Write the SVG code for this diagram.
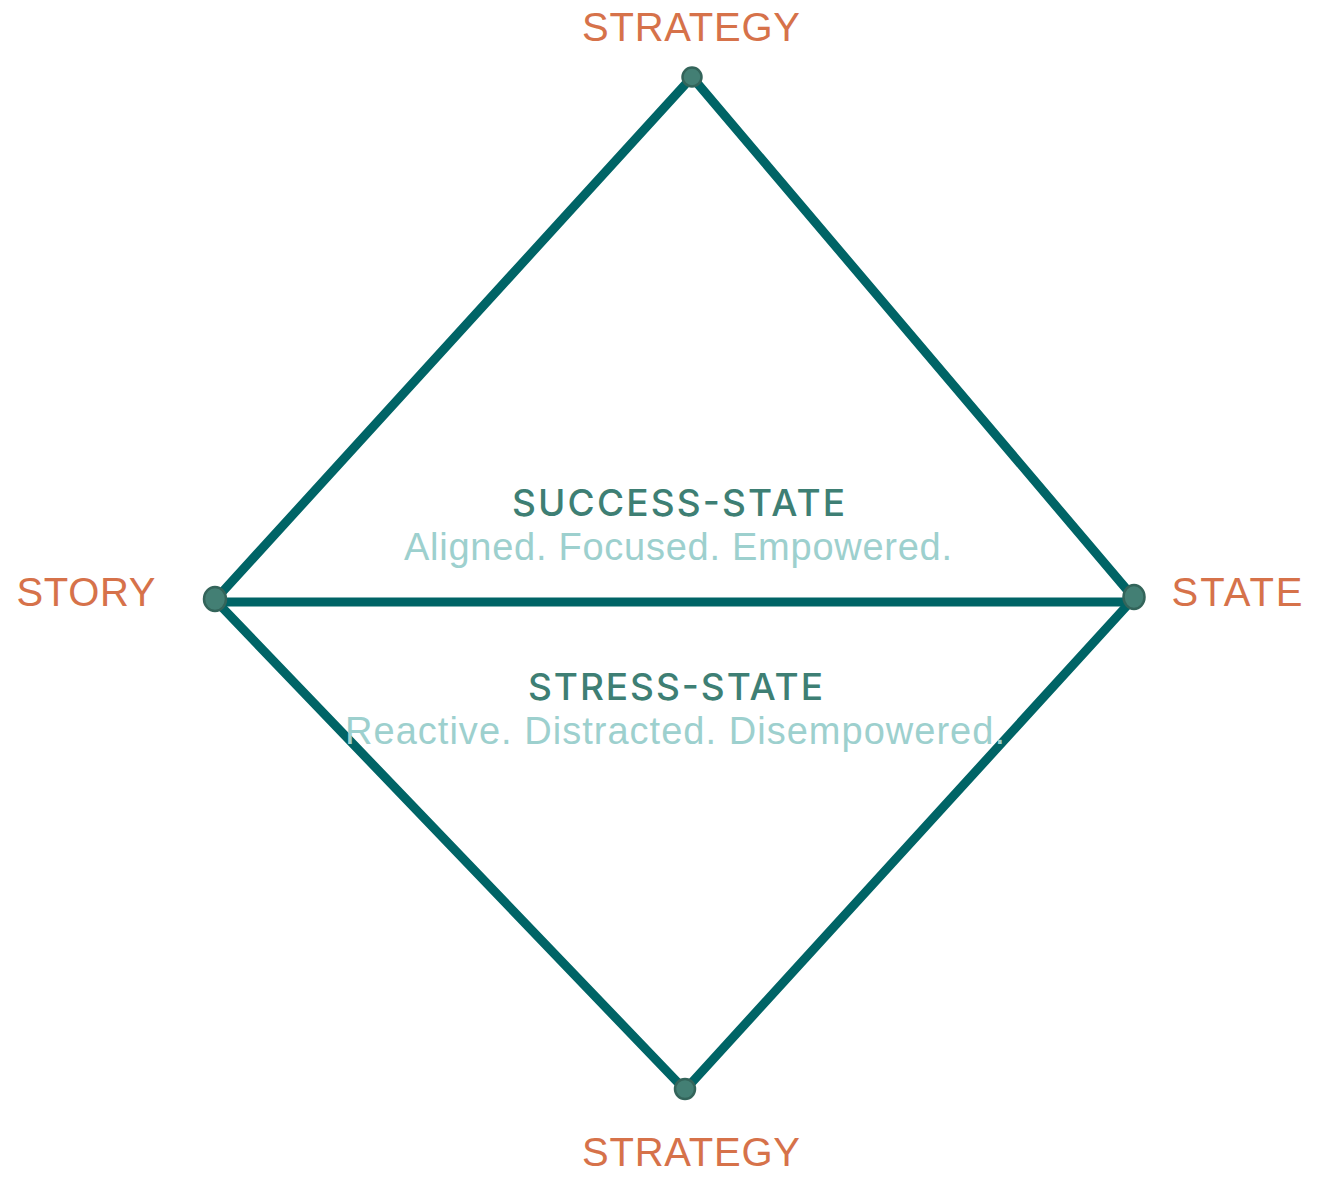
<svg xmlns="http://www.w3.org/2000/svg" width="1319" height="1181" viewBox="0 0 1319 1181">
  <style>
    .edge { stroke: #006466; stroke-width: 9; stroke-linecap: round; fill: none; }
    .dot { fill: #437f74; stroke: #33645a; stroke-width: 2.5; }
    .corner { font-family: "Liberation Sans", Arial, sans-serif; font-size: 40px; fill: #d6724a; text-anchor: middle; }
    .head { font-family: Inter, "Liberation Sans", Arial, sans-serif; font-weight: 500; font-size: 37px; fill: #3e7f74; text-anchor: middle; }
    .sub { font-family: "Liberation Sans", Arial, sans-serif; font-size: 38px; fill: #9dd0ce; text-anchor: middle; }
  </style>
  <rect width="1319" height="1181" fill="#ffffff"/>

  <!-- edges of the diamond and the middle divider -->
  <g id="connectors">
    <line class="edge" x1="215" y1="600" x2="692" y2="77"/>
    <line class="edge" x1="692" y1="77" x2="1134" y2="598"/>
    <line class="edge" x1="215" y1="602" x2="1134" y2="602"/>
    <line class="edge" x1="215" y1="600" x2="685" y2="1090"/>
    <line class="edge" x1="685" y1="1090" x2="1134" y2="598"/>
  </g>

  <g id="node-strategy-top">
    <circle class="dot" cx="692" cy="77" r="9.5"/>
    <text class="corner" x="691" y="41" textLength="218" lengthAdjust="spacing">STRATEGY</text>
  </g>

  <g id="node-story">
    <ellipse class="dot" cx="215" cy="599" rx="11" ry="12"/>
    <text class="corner" x="86" y="606" textLength="139" lengthAdjust="spacing">STORY</text>
  </g>

  <g id="node-state">
    <ellipse class="dot" cx="1134" cy="597" rx="10.5" ry="12"/>
    <text class="corner" x="1237" y="606" textLength="131" lengthAdjust="spacing">STATE</text>
  </g>

  <g id="node-strategy-bottom">
    <circle class="dot" cx="685" cy="1089" r="10"/>
    <text class="corner" x="691" y="1166" textLength="218" lengthAdjust="spacing">STRATEGY</text>
  </g>

  <g id="success-state">
    <text class="head" x="678.5" y="516" textLength="333" lengthAdjust="spacing">SUCCESS-STATE</text>
    <text class="sub" x="678" y="560" textLength="548" lengthAdjust="spacing">Aligned. Focused. Empowered.</text>
  </g>

  <g id="stress-state">
    <text class="head" x="675.5" y="700" textLength="295" lengthAdjust="spacing">STRESS-STATE</text>
    <text class="sub" x="675" y="744" textLength="660" lengthAdjust="spacing">Reactive. Distracted. Disempowered.</text>
  </g>
</svg>
